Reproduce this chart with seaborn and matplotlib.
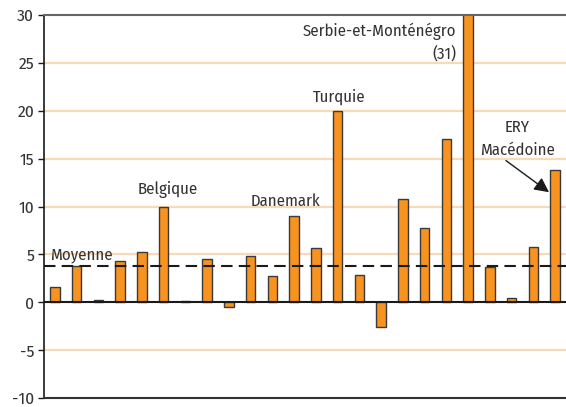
import matplotlib
matplotlib.use("Agg")
import matplotlib.pyplot as plt
import seaborn as sns

# Données
pays = [f"P{i:02d}" for i in range(1, 25)]
pays[5] = "Belgique"
pays[11] = "Danemark"
pays[13] = "Turquie"
pays[19] = "Serbie-et-Monténégro"
pays[23] = "ERY Macédoine"
valeurs = [1.6, 3.75, 0.2, 4.3, 5.3, 10.0, 0.1, 4.5, -0.5, 4.8, 2.7, 9.0,
           5.7, 20.0, 2.9, -2.6, 10.8, 7.8, 17.1, 31.0, 3.65, 0.5, 5.8, 13.8]
moyenne = 3.8
yticks = [-10, -5, 0, 5, 10, 15, 20, 25, 30]

sns.set_style("white")
plt.rcParams["font.family"] = ["Fira Sans Condensed", "DejaVu Sans"]

orange = "#F7931E"
texte = "#333333"

fig = plt.figure(figsize=(5.66, 4.07), dpi=100)
ax = fig.add_axes([0.0777, 0.022, 0.9223, 0.941])

# grille horizontale
for y in yticks:
    if y not in (0, -10, 30):
        ax.axhline(y, color="#FCD9B6", lw=1.6, zorder=0)

sns.barplot(x=pays, y=valeurs, color=orange, edgecolor="#3a3a3a",
            linewidth=1.0, width=0.43, saturation=1, ax=ax, zorder=2)

ax.axhline(0, color="#1a1a1a", lw=1.5, zorder=3)
ax.axhline(moyenne, color="#1a1a1a", lw=1.5, dashes=(5.5, 3), zorder=4)

ax.set_xlim(-0.5, len(pays) - 0.5)
ax.set_ylim(-10, 30)
ax.set_yticks(yticks)
ax.set_yticklabels([str(t) for t in yticks], fontsize=12.5, color=texte)
ax.set_xticks([])
ax.set_xlabel("")
ax.set_ylabel("")
ax.tick_params(axis="y", left=True, length=4, width=1, color="#1a1a1a", pad=3)

ax.spines["left"].set_color("#1a1a1a")
ax.spines["left"].set_linewidth(1.2)
ax.spines["bottom"].set_color("#333333")
ax.spines["bottom"].set_linewidth(1.5)
ax.spines["top"].set_color("#666666")
ax.spines["top"].set_linewidth(1.5)
ax.spines["right"].set_visible(False)

fs = 12
kw = dict(fontsize=fs, color=texte, va="center")
ax.text(-0.22, 4.95, "Moyenne", ha="left", **kw)
ax.text(5.19, 11.75, "Belgique", ha="center", **kw)
ax.text(10.6, 10.5, "Danemark", ha="center", **kw)
ax.text(13.08, 21.45, "Turquie", ha="center", **kw)
ax.text(18.44, 28.3, "Serbie-et-Monténégro", ha="right", **kw)
ax.text(18.44, 26.0, "(31)", ha="right", **kw)
ax.text(21.27, 18.3, "ERY", ha="center", **kw)
ax.text(21.27, 15.9, "Macédoine", ha="center", **kw)
ax.annotate("", xy=(22.72, 11.5), xytext=(20.74, 14.8),
            arrowprops=dict(arrowstyle="-|>", color="#1a1a1a", lw=1.0,
                            mutation_scale=22, shrinkA=0, shrinkB=0))

fig.savefig("out.png", dpi=100, facecolor="white")
